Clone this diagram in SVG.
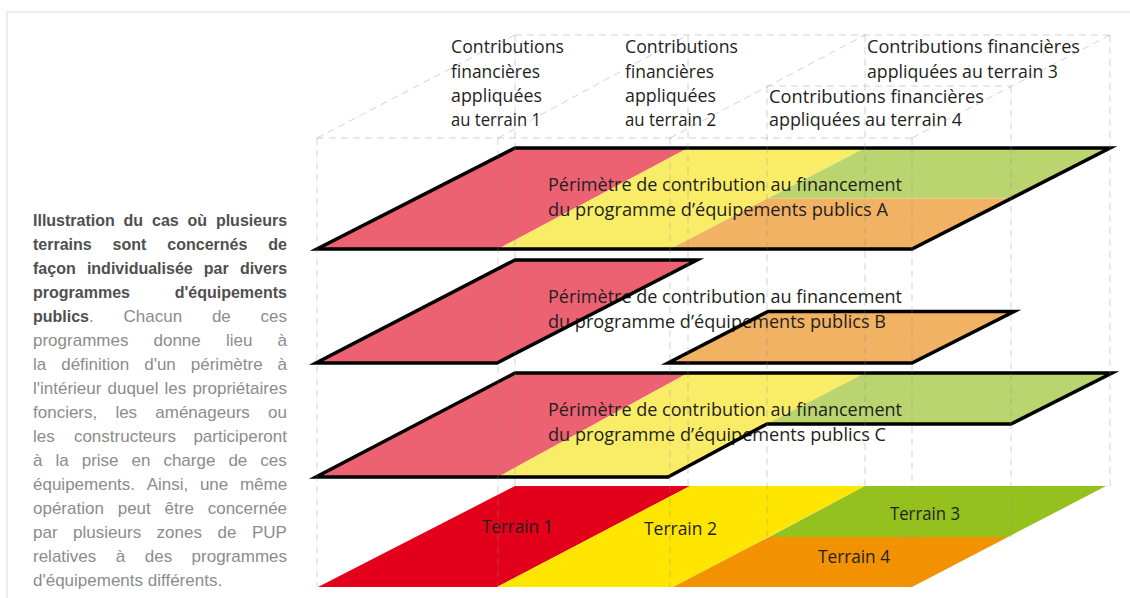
<svg xmlns="http://www.w3.org/2000/svg" width="1130" height="598" viewBox="0 0 1130 598">
<defs>
<style>
.lbl{font-family:"Open Sans","Liberation Sans",sans-serif;font-size:18px;fill:#231f20}
.cap{font-family:"Liberation Sans",Arial,sans-serif}
.b{font-weight:bold;font-size:16px;fill:#4f4f4f}
.r{font-size:17px;fill:#8c8c8c}
.out{fill:none;stroke:#000;stroke-width:3.5;stroke-linejoin:miter;stroke-miterlimit:12}
.dash{fill:none;stroke:#8a8a8a;stroke-opacity:.38;stroke-width:1;stroke-dasharray:7 5}
.pk{fill:#ED6272}.ye{fill:#F9ED67}.gr{fill:#BAD56F}.or{fill:#F2B263}
.t1{fill:#E3001B}.t2{fill:#FFE600}.t3{fill:#95C11F}.t4{fill:#F39200}
</style>
</defs>
<rect x="0" y="0" width="1130" height="598" fill="#fff"/>
<rect x="7" y="12" width="1140" height="600" fill="none" stroke="#ececec" stroke-width="2"/>

<g id="caption" class="cap">
<text y="226" class="b"><tspan x="33">Illustration</tspan><tspan x="123.6">du</tspan><tspan x="152">cas</tspan><tspan x="187.5">où</tspan><tspan x="215.9">plusieurs</tspan></text>
<text y="250" class="b"><tspan x="33">terrains</tspan><tspan x="112.6">sont</tspan><tspan x="167.3">concernés</tspan><tspan x="268.2">de</tspan></text>
<text y="274" class="b"><tspan x="33">façon</tspan><tspan x="86.9">individualisée</tspan><tspan x="203.8">par</tspan><tspan x="239.9">divers</tspan></text>
<text y="298" class="b"><tspan x="33">programmes</tspan><tspan x="174.7">d'équipements</tspan></text>
<text y="322" class="r"><tspan x="33" class="b">publics</tspan><tspan>.</tspan><tspan x="123.5">Chacun</tspan><tspan x="211.9">de</tspan><tspan x="260.6">ces</tspan></text>
<text y="346" class="r"><tspan x="33">programmes</tspan><tspan x="153.5">donne</tspan><tspan x="225.9">lieu</tspan><tspan x="277.5">à</tspan></text>
<text y="370" class="r"><tspan x="33">la</tspan><tspan x="61.2">définition</tspan><tspan x="144.2">d'un</tspan><tspan x="190.8">périmètre</tspan><tspan x="277.6">à</tspan></text>
<text y="394" class="r"><tspan x="33">l'intérieur</tspan><tspan x="107.5">duquel</tspan><tspan x="164.6">les</tspan><tspan x="192.4">propriétaires</tspan></text>
<text y="418" class="r"><tspan x="33">fonciers,</tspan><tspan x="115.4">les</tspan><tspan x="155.3">aménageurs</tspan><tspan x="268">ou</tspan></text>
<text y="442" class="r"><tspan x="33">les</tspan><tspan x="73.9">constructeurs</tspan><tspan x="193.4">participeront</tspan></text>
<text y="466" class="r"><tspan x="33">à</tspan><tspan x="55.5">la</tspan><tspan x="81.7">prise</tspan><tspan x="131.5">en</tspan><tspan x="163.4">charge</tspan><tspan x="228.4">de</tspan><tspan x="260.3">ces</tspan></text>
<text y="490" class="r"><tspan x="33">équipements.</tspan><tspan x="146.7">Ainsi,</tspan><tspan x="199.9">une</tspan><tspan x="239.9">même</tspan></text>
<text y="514" class="r"><tspan x="33">opération</tspan><tspan x="117.7">peut</tspan><tspan x="164.6">être</tspan><tspan x="207.7">concernée</tspan></text>
<text y="538" class="r"><tspan x="33">par</tspan><tspan x="73.1">plusieurs</tspan><tspan x="156.6">zones</tspan><tspan x="217.5">de</tspan><tspan x="251.9">PUP</tspan></text>
<text y="562" class="r"><tspan x="33">relatives</tspan><tspan x="115.8">à</tspan><tspan x="144.8">des</tspan><tspan x="191.6">programmes</tspan></text>
<text y="586" class="r" x="33">d'équipements différents.</text>
</g>

<g id="top-labels" class="lbl">
<g id="label-terrain-1">
<text x="451" y="53" textLength="113" lengthAdjust="spacingAndGlyphs">Contributions</text>
<text x="451" y="78" textLength="89" lengthAdjust="spacingAndGlyphs">financières</text>
<text x="451" y="102" textLength="91" lengthAdjust="spacingAndGlyphs">appliquées</text>
<text x="451" y="126" textLength="90" lengthAdjust="spacingAndGlyphs">au terrain 1</text>
</g>
<g id="label-terrain-2">
<text x="625" y="53" textLength="113" lengthAdjust="spacingAndGlyphs">Contributions</text>
<text x="625" y="78" textLength="89" lengthAdjust="spacingAndGlyphs">financières</text>
<text x="625" y="102" textLength="91" lengthAdjust="spacingAndGlyphs">appliquées</text>
<text x="625" y="126" textLength="91" lengthAdjust="spacingAndGlyphs">au terrain 2</text>
</g>
<g id="label-terrain-3">
<text x="867" y="53" textLength="213" lengthAdjust="spacingAndGlyphs">Contributions financières</text>
<text x="867" y="78" textLength="191" lengthAdjust="spacingAndGlyphs">appliquées au terrain 3</text>
</g>
<g id="label-terrain-4">
<text x="769" y="103" textLength="215" lengthAdjust="spacingAndGlyphs">Contributions financières</text>
<text x="769" y="126" textLength="193" lengthAdjust="spacingAndGlyphs">appliquées au terrain 4</text>
</g>
</g>

<g id="layer-A">
<polygon class="pk" points="515,148 688,148 498,249 317,249"/>
<polygon class="ye" points="688,148 865,148 670,249 498,249"/>
<polygon class="gr" points="865,148 1110,148 1011,198.5 767.5,198.5"/>
<polygon class="or" points="767.5,198.5 1011,198.5 912,249 670,249"/>
<text class="lbl" x="548" y="191" textLength="354" lengthAdjust="spacingAndGlyphs">Périmètre de contribution au financement</text>
<text class="lbl" x="548" y="216" textLength="340" lengthAdjust="spacingAndGlyphs">du programme d’équipements publics A</text>
<polygon class="out" points="515,148 1110,148 912,249 317,249"/>
</g>

<g id="layer-B">
<polygon class="pk" points="515,260 697,260 497,363 316,363"/>
<polygon class="or" points="768,311.5 1014,311.5 912,363 668,363"/>
<text class="lbl" x="548" y="303" textLength="354" lengthAdjust="spacingAndGlyphs">Périmètre de contribution au financement</text>
<text class="lbl" x="548" y="328" textLength="338" lengthAdjust="spacingAndGlyphs">du programme d’équipements publics B</text>
<polygon class="out" points="515,260 697,260 497,363 316,363"/>
<polygon class="out" points="768,311.5 1014,311.5 912,363 668,363"/>
</g>

<g id="layer-C">
<polygon class="pk" points="515,373 688,373 498,477 316,477"/>
<polygon class="ye" points="688,373 865,373 668,477 498,477"/>
<polygon class="gr" points="865,373 1112,373 1011,424 767,424"/>
<text class="lbl" x="548" y="416" textLength="354" lengthAdjust="spacingAndGlyphs">Périmètre de contribution au financement</text>
<text class="lbl" x="548" y="441" textLength="338" lengthAdjust="spacingAndGlyphs">du programme d’équipements publics C</text>
<polygon class="out" points="515,373 1112,373 1011,424 767,424 668,477 316,477"/>
</g>

<g id="terrains">
<g id="terrain-1"><polygon class="t1" points="515,486 690,486 497,587 318,587"/><text class="lbl" x="482" y="533" textLength="71" lengthAdjust="spacingAndGlyphs">Terrain 1</text></g>
<g id="terrain-2"><polygon class="t2" points="690,486 865,486 673,587 497,587"/><text class="lbl" x="644" y="535" textLength="73" lengthAdjust="spacingAndGlyphs">Terrain 2</text></g>
<g id="terrain-3"><polygon class="t3" points="865,486 1106,486 1008,537 769,537"/><text class="lbl" x="890" y="520" textLength="70" lengthAdjust="spacingAndGlyphs">Terrain 3</text></g>
<g id="terrain-4"><polygon class="t4" points="769,537 1008,537 912,587 673,587"/><text class="lbl" x="818" y="563" textLength="72" lengthAdjust="spacingAndGlyphs">Terrain 4</text></g>
</g>

<g id="connectors" class="dash">
<path d="M515 35H1110M317 138H912M767 86H1011"/>
<path d="M317 138L515 35M498 138L688 35M670 138L865 35M912 138L1110 35"/>
<path d="M317 138V587M498 138V587M670 138V587M912 138V587"/>
<path d="M515 35V486M688 35V486M865 35V486M1110 35V486"/>
<path d="M767 86V537M1011 86V537"/>
</g>
</svg>
